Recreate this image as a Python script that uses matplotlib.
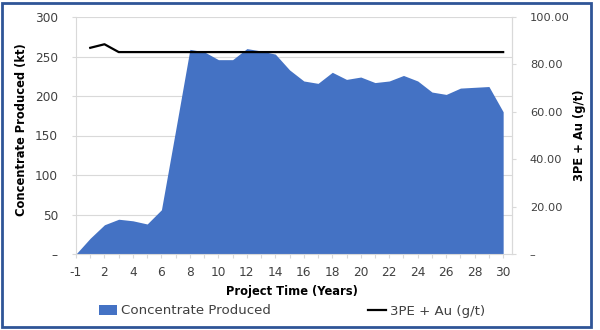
import matplotlib
matplotlib.use("Agg")
import matplotlib.pyplot as plt
import numpy as np
from matplotlib.patches import Rectangle, Patch
from matplotlib.lines import Line2D

years = [-1] + list(range(1, 31))
concentrate = [0, 20, 37, 44, 42, 38, 56, 157, 259, 256, 246, 246, 260, 257, 253,
               233, 219, 216, 230, 221, 224, 217, 219, 226, 219, 205, 202, 210, 211, 212, 180]
grade = [np.nan, 87, 88.5, 85.2, 85.2, 85.2, 85.2, 85.2, 85.2, 85.2, 85.2, 85.2, 85.2, 85.2, 85.2,
         85.2, 85.2, 85.2, 85.2, 85.2, 85.2, 85.2, 85.2, 85.2, 85.2, 85.2, 85.2, 85.2, 85.2, 85.2, 85.2]
y1_ticks = [0, 50, 100, 150, 200, 250, 300]
y1_labels = ["–", "50", "100", "150", "200", "250", "300"]
y2_ticks = [0, 20, 40, 60, 80, 100]
y2_labels = ["–", "20.00", "40.00", "60.00", "80.00", "100.00"]

plt.rcParams['font.family'] = ['DejaVu Sans']
fig = plt.figure(figsize=(6, 3.3), dpi=100)
L, R, T, B = 76, 511.7, 17, 254
ax = fig.add_axes([L/600, 1-B/330, (R-L)/600, (B-T)/330])
x = np.arange(len(years))

grid_c = "#D9D9D9"
tick_c = "#404040"
ax.fill_between(x, concentrate, 0, color="#4472C4", lw=0, zorder=2)
for t in y1_ticks[1:]:
    ax.axhline(t, color=grid_c, lw=0.8, zorder=1)
ax.set_xlim(0, 30.6)
ax.set_ylim(0, 300)
ax.set_yticks(y1_ticks)
ax.set_yticklabels(y1_labels)
ax.set_xticks(x)
ax.set_xticklabels([str(y) if i % 2 == 0 else "" for i, y in enumerate(years)])
ax.spines["top"].set_visible(False)
for s in ["left", "bottom", "right"]:
    ax.spines[s].set_color(grid_c)
    ax.spines[s].set_linewidth(0.8)
ax.tick_params(axis="both", colors=grid_c, labelcolor=tick_c, labelsize=8.7, length=3, width=0.8)
ax.tick_params(axis="x", pad=6)
ax.tick_params(axis="y", pad=10)

ax2 = ax.twinx()
ax2.plot(x, grade, color="black", lw=1.6, zorder=3)
ax2.set_ylim(0, 100)
ax2.set_yticks(y2_ticks)
ax2.set_yticklabels(y2_labels)
for s in ["top", "left", "bottom"]:
    ax2.spines[s].set_visible(False)
ax2.spines["right"].set_color(grid_c)
ax2.spines["right"].set_linewidth(0.8)
ax2.tick_params(axis="y", colors=grid_c, labelcolor=tick_c, labelsize=8.2, length=3, width=0.8, pad=10)

fig.text(292/600, 1-291/330, "Project Time (Years)", fontsize=8.3, fontweight="bold",
         ha="center", va="center")
fig.text(22/600, 1-130/330, "Concentrate Produced (kt)", fontsize=8.3, fontweight="bold",
         ha="center", va="center", rotation=90)
fig.text(579/600, 1-135/330, "3PE + Au (g/t)", fontsize=8.3, fontweight="bold",
         ha="center", va="center", rotation=90)

handles = [Patch(facecolor="#4472C4", edgecolor="none"), Line2D([0], [0], color="black", lw=1.6)]
fig.legend(handles, ["Concentrate Produced", "3PE + Au (g/t)"], loc="center",
           bbox_to_anchor=(292/600, 1-311/330), ncol=2, frameon=False, fontsize=9.6,
           handlelength=1.35, handleheight=0.7, handletextpad=0.3, columnspacing=7.3,
           labelcolor=tick_c)

fig.patches.append(Rectangle((2/600, 3/330), 589/600, 324/330, transform=fig.transFigure,
                             fill=False, edgecolor="#2F5597", lw=2))
fig.savefig("out.png", dpi=100)
